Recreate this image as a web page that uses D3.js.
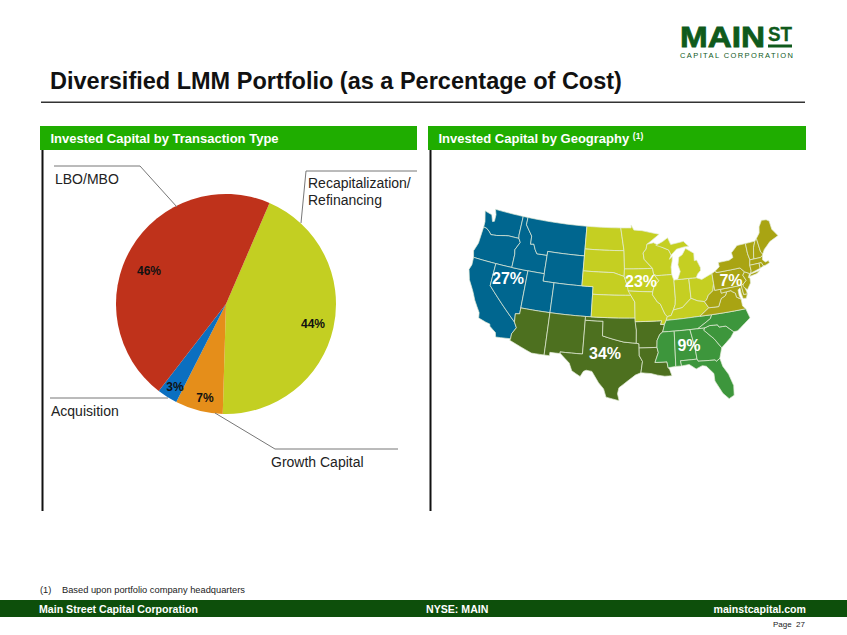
<!DOCTYPE html>
<html>
<head>
<meta charset="utf-8">
<script src="https://cdn.jsdelivr.net/npm/d3@7"></script>
<style>
  html, body { margin: 0; padding: 0; background: #fff; }
  svg { display: block; }
  text { font-family: "Liberation Sans", Arial, sans-serif; }
</style>
</head>
<body>
<svg id="chart" width="847" height="635"></svg>
<script>
// pie data
const dealTypes = ["Recapitalization/Refinancing", "Growth Capital", "Acquisition", "LBO/MBO"];
const dealShares = [44, 7, 3, 46];
const dealColors = ["#c3cf22", "#e58e1a", "#0b6fc0", "#bf321b"];

// map data
const regionShares = ["27%", "34%", "23%", "9%", "7%"];
const regionColors = ["#00668f", "#4d701f", "#c5cf22", "#3d963c", "#a9a413"];

// state outlines, lon/lat
const westStates = [
  [[-124.7,48.4],[-123.2,48.15],[-122.7,47.3],[-122.35,47.4],[-122.4,48.3],[-122.8,49],[-117.03,49],[-117.04,46.42],[-116.92,45.99],[-118.98,46],[-119.6,45.92],[-121.2,45.65],[-122.3,45.55],[-122.8,45.9],[-123.4,46.2],[-124.05,46.27],[-124.1,47]],
  [[-124.05,46.27],[-123.4,46.2],[-122.8,45.9],[-122.3,45.55],[-121.2,45.65],[-119.6,45.92],[-118.98,46],[-116.92,45.99],[-116.5,45.5],[-117.2,44.4],[-117.03,43.8],[-117.03,42],[-120,42],[-124.2,42],[-124.55,42.84],[-124.1,44]],
  [[-124.2,42],[-120,42],[-120,39],[-114.63,35],[-114.14,34.3],[-114.72,33.4],[-114.72,32.72],[-117.12,32.53],[-117.3,33.1],[-118.4,33.75],[-118.5,34.03],[-119.2,34.15],[-120.5,34.45],[-120.65,35.15],[-121.9,36.6],[-122.5,37.5],[-122.9,38],[-123.75,39],[-124.35,40.3],[-124.1,41]],
  [[-120,42],[-117.03,42],[-114.04,42],[-114.04,36.2],[-114.75,36.1],[-114.63,35],[-120,39]],
  [[-117.03,49],[-116.05,49],[-116.05,48],[-114.6,46.65],[-114.5,45.55],[-113.9,45.65],[-113.45,44.95],[-113,44.45],[-111.05,44.48],[-111.05,42],[-114.04,42],[-117.03,42],[-117.03,43.8],[-117.2,44.4],[-116.5,45.5],[-116.92,45.99],[-117.04,46.42]],
  [[-116.05,49],[-104.05,49],[-104.05,45],[-111.05,45],[-111.05,44.48],[-113,44.45],[-113.45,44.95],[-113.9,45.65],[-114.5,45.55],[-114.6,46.65],[-116.05,48]],
  [[-111.05,45],[-104.05,45],[-104.05,41],[-109.05,41],[-111.05,41]],
  [[-114.04,42],[-111.05,42],[-111.05,41],[-109.05,41],[-109.05,37],[-114.04,37]],
  [[-109.05,41],[-102.05,41],[-102.05,37],[-109.05,37]]
];
const southwestStates = [
  [[-114.04,37],[-109.05,37],[-109.05,31.33],[-111.07,31.33],[-114.8,32.5],[-114.72,32.72],[-114.72,33.4],[-114.14,34.3],[-114.63,35],[-114.75,36.1],[-114.04,36.2]],
  [[-109.05,37],[-103,37],[-103,36.5],[-103.04,32],[-106.62,32],[-106.53,31.78],[-108.2,31.78],[-108.2,31.33],[-109.05,31.33]],
  [[-103,36.5],[-100,36.5],[-100,34.56],[-98.1,34.13],[-96.5,33.8],[-94.48,33.64],[-94.04,33.55],[-94.04,33],[-94.04,31.99],[-93.55,31.2],[-93.84,29.7],[-94.7,29.4],[-95.9,28.6],[-97.2,27.7],[-97.4,26.9],[-97.15,25.96],[-99.1,26.4],[-99.5,27.5],[-100.3,28.3],[-101.4,29.77],[-102.3,29.88],[-102.7,29.7],[-103.15,28.98],[-104.5,29.65],[-105,30.65],[-106.53,31.78],[-106.62,32],[-103.04,32]],
  [[-103,37],[-94.62,37],[-94.43,35.4],[-94.48,33.64],[-96.5,33.8],[-98.1,34.13],[-100,34.56],[-100,36.5],[-103,36.5]],
  [[-94.62,36.5],[-90.15,36.5],[-90.37,36],[-89.7,36],[-90.1,35],[-90.6,34.7],[-91.1,33.9],[-91.17,33],[-94.04,33],[-94.04,33.55],[-94.48,33.64],[-94.43,35.4]],
  [[-94.04,33],[-91.17,33],[-91,32.3],[-91.6,31],[-89.73,31],[-89.6,30.2],[-89.4,30],[-89.1,29.1],[-90.2,29.1],[-91.3,29.3],[-92.3,29.55],[-93.84,29.7],[-93.55,31.2],[-94.04,31.99]]
];
const midwestStates = [
  [[-104.05,49],[-97.23,49],[-96.55,45.94],[-104.05,45.94]],
  [[-104.05,45.94],[-96.55,45.94],[-96.45,43.5],[-96.5,42.5],[-98.5,43],[-104.05,43]],
  [[-104.05,43],[-98.5,43],[-96.5,42.5],[-95.9,41.2],[-95.31,40],[-102.05,40],[-102.05,41],[-104.05,41]],
  [[-102.05,40],[-95.31,40],[-94.62,39.1],[-94.62,37],[-102.05,37]],
  [[-97.23,49],[-95.15,49],[-95.15,49.4],[-94.6,48.7],[-93,48.6],[-89.6,48],[-92.1,46.75],[-92.3,46.1],[-92.9,45.6],[-92.75,44.75],[-91.25,43.5],[-96.45,43.5],[-96.55,45.94]],
  [[-96.45,43.5],[-91.25,43.5],[-91.1,42.7],[-90.2,41.8],[-91.1,41.2],[-91.42,40.38],[-95.77,40.58],[-95.9,41.2],[-96.5,42.5]],
  [[-95.77,40.58],[-91.42,40.38],[-91.5,40],[-90.7,39],[-90.2,38.7],[-89.5,37.3],[-89.15,37],[-89.4,36.5],[-89.7,36],[-90.37,36],[-90.15,36.5],[-94.62,36.5],[-94.62,37],[-94.62,39.1],[-95.31,40]],
  [[-92.1,46.75],[-90.8,46.9],[-89,46.15],[-88,45.8],[-87.6,45.1],[-88,44.55],[-87.4,44.9],[-87.5,44.3],[-87.8,43.5],[-87.8,42.5],[-90.64,42.5],[-91.1,42.7],[-91.25,43.5],[-92.75,44.75],[-92.9,45.6],[-92.3,46.1]],
  [[-90.64,42.5],[-87.8,42.5],[-87.5,41.7],[-87.53,39.3],[-87.65,38.5],[-88.05,37.8],[-88.5,37.1],[-89.15,37],[-89.5,37.3],[-90.2,38.7],[-90.7,39],[-91.5,40],[-91.42,40.38],[-91.1,41.2],[-90.2,41.8],[-91.1,42.7]],
  [[-87.5,41.7],[-87.2,41.76],[-84.8,41.76],[-84.82,39.1],[-85.45,38.7],[-86.5,38],[-88.05,37.8],[-87.65,38.5],[-87.53,39.3]],
  [[-84.8,41.76],[-83.45,41.73],[-82.5,41.4],[-81.2,41.8],[-80.52,41.98],[-80.52,40.64],[-80.85,39.7],[-81.75,39.2],[-82.2,38.6],[-82.6,38.45],[-83.7,38.65],[-84.82,39.1]],
  [[-89.4,36.5],[-89.15,37],[-88.5,37.1],[-88.05,37.8],[-86.5,38],[-85.45,38.7],[-84.82,39.1],[-83.7,38.65],[-82.6,38.45],[-82,37.55],[-83.68,36.6]],
  [[-86.82,41.76],[-84.8,41.76],[-83.45,41.73],[-83.1,42.2],[-82.5,42.6],[-82.45,43],[-82.95,44.05],[-83.4,44],[-83.3,45],[-84.75,45.78],[-85.5,45],[-86.2,44.7],[-86.5,43.7],[-86.2,42.8]],
  [[-90.4,46.55],[-89,47],[-88,47.45],[-87.5,46.5],[-85,46.75],[-84.1,46],[-85,46],[-86.5,45.8],[-87.6,45.1],[-88,45.8],[-89,46.15]]
];
const southeastStates = [
  [[-89.4,36.5],[-83.68,36.6],[-81.68,36.59],[-82,36.1],[-84.3,35],[-85.6,35],[-88.2,35],[-90.1,35],[-89.7,36]],
  [[-90.1,35],[-88.2,35],[-88.4,30.3],[-89.6,30.2],[-89.73,31],[-91.6,31],[-91,32.3],[-91.17,33],[-91.1,33.9],[-90.6,34.7]],
  [[-88.2,35],[-85.6,35],[-85.1,32.5],[-85,31],[-87.6,31],[-87.5,30.3],[-88.4,30.3]],
  [[-85.6,35],[-84.3,35],[-83.1,35],[-83.35,34.7],[-81.9,33.4],[-80.9,32.05],[-81.45,30.7],[-82.05,30.36],[-82.2,30.57],[-84.86,30.7],[-85,31],[-85.1,32.5]],
  [[-87.6,31],[-85,31],[-84.86,30.7],[-82.2,30.57],[-82.05,30.36],[-81.45,30.7],[-81.2,29.6],[-80.5,28.4],[-80.03,26.8],[-80.2,25.5],[-81,25.15],[-81.8,26],[-82.7,27.8],[-82.7,28.8],[-83.7,29.9],[-84.3,30.05],[-85.3,29.7],[-86.3,30.4],[-87.5,30.3]],
  [[-83.1,35],[-82.3,35.2],[-81,35.15],[-80.8,34.82],[-79.67,34.8],[-78.55,33.86],[-79.2,33.2],[-80.9,32.05],[-81.9,33.4],[-83.35,34.7]],
  [[-84.3,35],[-82,36.1],[-81.68,36.59],[-75.87,36.55],[-75.5,35.25],[-76.6,34.65],[-77.9,33.9],[-78.55,33.86],[-79.67,34.8],[-80.8,34.82],[-81,35.15],[-82.3,35.2],[-83.1,35]]
];
const northeastStates = [
  [[-83.68,36.6],[-81.68,36.59],[-75.87,36.55],[-76.3,37],[-76.3,37.9],[-77,38.3],[-77.05,38.85],[-77.5,39.1],[-77.75,39.3],[-78.35,39.4],[-78.87,38.76],[-79.65,38.5],[-80.3,37.5],[-82,37.55]],
  [[-82,37.55],[-80.3,37.5],[-79.65,38.5],[-78.87,38.76],[-78.35,39.4],[-77.75,39.3],[-79.48,39.2],[-79.48,39.72],[-80.52,39.72],[-80.52,40.64],[-80.85,39.7],[-81.75,39.2],[-82.2,38.6],[-82.6,38.45]],
  [[-79.48,39.72],[-75.79,39.72],[-75.7,38.46],[-75.05,38.45],[-75.4,37.9],[-75.95,37.95],[-76.1,38.7],[-76.1,39.4],[-76.5,39.2],[-76.5,38.4],[-76.3,37.95],[-77,38.3],[-77.05,38.85],[-77.5,39.1],[-77.75,39.3],[-79.48,39.2]],
  [[-75.79,39.72],[-75.4,39.8],[-75.1,38.8],[-75.05,38.45],[-75.7,38.46]],
  [[-80.52,41.98],[-79.76,42.27],[-79.76,42],[-75.35,42],[-74.7,41.36],[-75.13,40.97],[-74.75,40.2],[-75.4,39.8],[-75.79,39.72],[-79.48,39.72],[-80.52,39.72],[-80.52,40.64]],
  [[-74.7,41.36],[-73.9,41],[-74.25,40.5],[-74,40.4],[-74.1,39.75],[-74.9,38.95],[-75.5,39.5],[-75.4,39.8],[-74.75,40.2],[-75.13,40.97]],
  [[-79.76,42.27],[-79,42.7],[-79.05,43.27],[-77,43.3],[-76.2,43.55],[-76.3,44.2],[-75,45],[-73.35,45],[-73.4,43.6],[-73.25,42.75],[-73.5,42.05],[-73.5,41.3],[-73.66,41],[-73.9,41],[-74.7,41.36],[-75.35,42],[-79.76,42]],
  [[-74,40.6],[-73.7,40.9],[-72,41.05],[-72.6,40.75]],
  [[-73.35,45],[-71.5,45],[-72.05,44.2],[-72.45,43],[-72.46,42.73],[-73.25,42.75],[-73.4,43.6]],
  [[-71.5,45],[-71.08,45.3],[-70.98,43.4],[-70.7,43.07],[-70.85,42.87],[-71.3,42.7],[-72.46,42.73],[-72.45,43],[-72.05,44.2]],
  [[-71.08,45.3],[-70.3,45.9],[-70,46.7],[-69.2,47.45],[-68.3,47.35],[-67.8,47.07],[-67.78,45.9],[-67,44.85],[-68.8,44.4],[-70.2,43.6],[-70.7,43.07],[-70.98,43.4]],
  [[-73.5,42.05],[-73.25,42.75],[-72.46,42.73],[-71.3,42.7],[-70.85,42.87],[-71,42.3],[-70.6,41.95],[-70,42.05],[-69.95,41.7],[-70.65,41.55],[-71.13,41.5],[-71.38,42.02],[-71.8,42.02]],
  [[-71.8,42.02],[-71.38,42.02],[-71.13,41.5],[-71.85,41.32]],
  [[-73.5,42.05],[-71.8,42.02],[-71.85,41.32],[-73.66,41],[-73.5,41.3]]
];
const regionStates = [westStates, southwestStates, midwestStates, southeastStates, northeastStates];

let svg = d3.select("#chart");

// slide frame
svg.append("text").attr("x", 50).attr("y", 89)
  .attr("font-size", 23.5).attr("font-weight", "bold").attr("fill", "#111")
  .text("Diversified LMM Portfolio (as a Percentage of Cost)");
svg.append("rect").attr("x", 41).attr("y", 101.5).attr("width", 764).attr("height", 1.5).attr("fill", "#333");

let panels = [
  {x: 40, w: 377, title: "Invested Capital by Transaction Type", sup: null},
  {x: 428, w: 378, title: "Invested Capital by Geography ", sup: "(1)"}
];
panels.forEach(function(p) {
  svg.append("rect").attr("x", p.x).attr("y", 126).attr("width", p.w).attr("height", 24).attr("fill", "#1fad00");
  svg.append("rect").attr("x", p.x + 1.5).attr("y", 150).attr("width", 2).attr("height", 361).attr("fill", "#111");
  let t = svg.append("text").attr("x", p.x + 10.5).attr("y", 142.5)
    .attr("font-size", 13).attr("font-weight", "bold").attr("fill", "#fff").text(p.title);
  if (p.sup) {
    t.append("tspan").attr("font-size", 8.5).attr("dy", -4).text(p.sup);
  }
});

// logo
let logo = svg.append("g").attr("fill", "#0f5a1c").attr("stroke", "#0f5a1c");
logo.append("text").attr("x", 680).attr("y", 47).attr("font-size", 29).attr("font-weight", "bold")
  .attr("stroke-width", 0.8).attr("textLength", 85).attr("lengthAdjust", "spacingAndGlyphs").text("MAIN");
logo.append("text").attr("x", 768).attr("y", 41).attr("font-size", 20).attr("font-weight", "bold")
  .attr("stroke-width", 0.3).attr("textLength", 24).attr("lengthAdjust", "spacingAndGlyphs").text("ST");
logo.append("rect").attr("x", 768).attr("y", 44.5).attr("width", 24).attr("height", 3).attr("stroke", "none");
logo.append("text").attr("x", 680).attr("y", 57.5).attr("font-size", 7.5).attr("stroke", "none")
  .attr("textLength", 113).text("CAPITAL CORPORATION");

// pie
let pieCenter = [226, 304];
let pieRadius = 110;
let startAngle = 23.3 * Math.PI / 180;
let pie = d3.pie().sort(null).startAngle(startAngle).endAngle(startAngle + 2 * Math.PI);
let arc = d3.arc().innerRadius(0).outerRadius(pieRadius);
svg.append("g").attr("transform", "translate(" + pieCenter + ")")
  .selectAll("path").data(pie(dealShares)).enter().append("path")
  .attr("d", arc)
  .attr("fill", function(d, i) { return dealColors[i]; });

// pie labels sit off the centroid in the original, so offsets from centre
let pieLabelOffsets = [[87, 20], [-21, 94], [-51, 83], [-77, -33]];
svg.append("g").selectAll("text").data(dealShares).enter().append("text")
  .attr("x", function(d, i) { return pieCenter[0] + pieLabelOffsets[i][0]; })
  .attr("y", function(d, i) { return pieCenter[1] + pieLabelOffsets[i][1] + 4; })
  .attr("text-anchor", "middle").attr("font-size", 12).attr("font-weight", "bold").attr("fill", "#111")
  .text(function(d) { return d + "%"; });

// leader lines
let leaders = [
  [[54, 166], [140, 166], [177, 207]],
  [[417, 171], [306, 171], [301, 223]],
  [[50, 398], [168, 398]],
  [[398, 449], [275, 449], [215, 413]]
];
svg.append("g").selectAll("path").data(leaders).enter().append("path")
  .attr("d", d3.line()).attr("fill", "none").attr("stroke", "#777").attr("stroke-width", 1);

let dealLabels = [
  {x: 55, y: 184, s: "LBO/MBO"},
  {x: 308, y: 188, s: "Recapitalization/"},
  {x: 308, y: 205, s: "Refinancing"},
  {x: 51, y: 416, s: "Acquisition"},
  {x: 271, y: 467, s: "Growth Capital"}
];
svg.append("g").selectAll("text").data(dealLabels).enter().append("text")
  .attr("x", function(d) { return d.x; }).attr("y", function(d) { return d.y; })
  .attr("font-size", 14).attr("fill", "#222")
  .text(function(d) { return d.s; });

// map
// long straight borders have to follow the parallels, so split them up
function splitRing(ring) {
  let out = [];
  ring.concat([ring[0]]).forEach(function(p, i, all) {
    if (i == 0) { out.push(p); return; }
    let prev = all[i - 1];
    let n = Math.ceil(Math.abs(p[0] - prev[0]));
    for (let k = 1; k <= Math.max(n, 1); k++) {
      let m = k / Math.max(n, 1);
      out.push([prev[0] + (p[0] - prev[0]) * m, prev[1] + (p[1] - prev[1]) * m]);
    }
  });
  return out;
}
function toFeature(ring, region) {
  let closed = splitRing(ring);
  let f = {type: "Feature", properties: {region: region}, geometry: {type: "Polygon", coordinates: [closed]}};
  if (d3.geoArea(f) > 2 * Math.PI) {
    f.geometry.coordinates = [closed.slice().reverse()];
  }
  return f;
}
let features = [];
regionStates.forEach(function(states, r) {
  states.forEach(function(ring) { features.push(toFeature(ring, r)); });
});
let collection = {type: "FeatureCollection", features: features};
let projection = d3.geoAlbers().rotate([96, 0]).center([0, 37.5]).parallels([29.5, 45.5])
  .fitExtent([[469, 207], [778, 403]], collection);
let path = d3.geoPath(projection);
svg.append("g").selectAll("path").data(features).enter().append("path")
  .attr("d", path)
  .attr("fill", function(d) { return regionColors[d.properties.region]; })
  .attr("stroke", "#e4ecd8").attr("stroke-width", 0.7).attr("stroke-linejoin", "round");

let mapLabelSpots = [[508, 278], [605, 353], [641, 281], [689, 345], [731, 280]];
svg.append("g").selectAll("text").data(regionShares).enter().append("text")
  .attr("x", function(d, i) { return mapLabelSpots[i][0]; })
  .attr("y", function(d, i) { return mapLabelSpots[i][1] + 6; })
  .attr("text-anchor", "middle").attr("font-size", 16).attr("font-weight", "bold").attr("fill", "#fff")
  .text(function(d) { return d; });

// footer
svg.append("text").attr("x", 40).attr("y", 593).attr("font-size", 9.3).attr("fill", "#222").text("(1)");
svg.append("text").attr("x", 62).attr("y", 593).attr("font-size", 9.3).attr("fill", "#222").text("Based upon portfolio company headquarters");
svg.append("rect").attr("x", 0).attr("y", 600).attr("width", 847).attr("height", 17).attr("fill", "#0d4f0b");
let footer = svg.append("g").attr("font-size", 10.6).attr("font-weight", "bold").attr("fill", "#fff");
footer.append("text").attr("x", 39).attr("y", 613).text("Main Street Capital Corporation");
footer.append("text").attr("x", 426).attr("y", 613).text("NYSE: MAIN");
footer.append("text").attr("x", 806).attr("y", 613).attr("text-anchor", "end").text("mainstcapital.com");
svg.append("text").attr("x", 805).attr("y", 627).attr("text-anchor", "end").attr("font-size", 8).attr("fill", "#222")
  .attr("xml:space", "preserve").text("Page  27");
</script>
</body>
</html>
